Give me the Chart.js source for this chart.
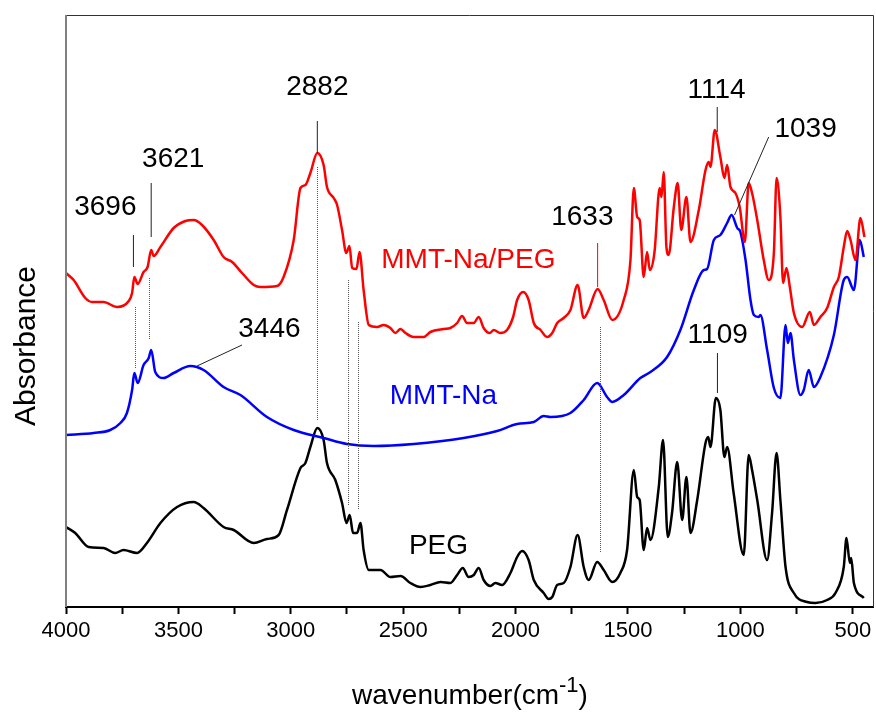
<!DOCTYPE html>
<html>
<head>
<meta charset="utf-8">
<script src="https://cdn.jsdelivr.net/npm/chart.js@4.4.1/dist/chart.umd.min.js"></script>
<style>
  html, body { margin: 0; padding: 0; background: #fff; }
  #ftir-chart { display: block; }
</style>
</head>
<body>
<canvas id="ftir-chart" width="876" height="713"></canvas>
<script>
// x axis: wavenumber (cm-1), plotted high -> low
const xTickValues = [4000, 3750, 3500, 3250, 3000, 2750, 2500, 2250, 2000, 1750, 1500, 1250, 1000, 750, 500];
const wavenumberMin = 410;
const wavenumberMax = 4000;
const absorbanceMin = 0;
const absorbanceMax = 5.92; // arbitrary units, stacked spectra

// MMT-Na/PEG (red)
const compositeWavenumbers = [
  4000, 3966, 3914, 3884, 3833, 3773, 3721, 3706, 3696, 3681,
  3655, 3637, 3621, 3610, 3580, 3521, 3469, 3432, 3395, 3343,
  3299, 3261, 3217, 3165, 3135, 3061, 3032, 2987, 2957, 2935,
  2913, 2882, 2854, 2839, 2809, 2794, 2772, 2753, 2739, 2727,
  2708, 2694, 2676, 2653, 2616, 2587, 2557, 2535, 2512, 2490,
  2453, 2409, 2379, 2320, 2290, 2260, 2238, 2216, 2186, 2164,
  2142, 2115, 2097, 2068, 2038, 2011, 1993, 1966, 1942, 1919,
  1889, 1860, 1837, 1815, 1786, 1756, 1724, 1697, 1675, 1635,
  1608, 1570, 1519, 1489, 1474, 1459, 1448, 1430, 1415, 1403,
  1382, 1359, 1351, 1341, 1329, 1319, 1296, 1279, 1263, 1240,
  1222, 1185, 1155, 1141, 1133, 1114, 1089, 1071, 1059, 1044,
  1022, 1003, 980, 963, 948, 925, 896, 874, 851, 839,
  822, 810, 795, 780, 762, 725, 691, 673, 644, 614,
  584, 562, 540, 525, 510, 488, 466, 448
];
const compositeAbsorbance = [
  3.34, 3.27, 3.09, 3.05, 3.05, 3.00, 3.06, 3.14, 3.30, 3.23,
  3.35, 3.40, 3.57, 3.51, 3.60, 3.79, 3.86, 3.87, 3.82, 3.67,
  3.50, 3.45, 3.34, 3.22, 3.20, 3.21, 3.30, 3.67, 4.19, 4.22,
  4.34, 4.54, 4.42, 4.20, 4.09, 4.02, 3.77, 3.54, 3.61, 3.39,
  3.38, 3.55, 3.17, 2.82, 2.80, 2.82, 2.79, 2.74, 2.78, 2.74,
  2.70, 2.70, 2.75, 2.78, 2.79, 2.84, 2.91, 2.84, 2.84, 2.90,
  2.79, 2.74, 2.77, 2.74, 2.77, 2.90, 3.07, 3.15, 3.07, 2.84,
  2.77, 2.70, 2.74, 2.84, 2.89, 2.97, 3.22, 2.89, 2.97, 3.18,
  3.07, 2.87, 3.07, 3.47, 4.19, 3.90, 3.87, 3.30, 3.55, 3.37,
  3.55, 4.19, 4.10, 4.35, 3.60, 3.52, 4.00, 4.24, 3.77, 4.10,
  3.65, 3.97, 4.37, 4.45, 4.40, 4.77, 4.50, 4.29, 4.42, 4.20,
  4.14, 4.00, 3.65, 4.24, 4.14, 3.87, 3.47, 3.27, 3.54, 4.29,
  3.90, 3.24, 3.39, 3.20, 2.94, 2.80, 2.95, 2.82, 2.90, 2.99,
  3.20, 3.30, 3.60, 3.76, 3.67, 3.47, 3.89, 3.70
];

// MMT-Na (blue)
const clayWavenumbers = [
  4000, 3877, 3803, 3758, 3729, 3706, 3696, 3681, 3655, 3632,
  3621, 3603, 3566, 3521, 3447, 3388, 3299, 3224, 3106, 2987,
  2854, 2750, 2631, 2453, 2231, 2082, 1993, 1919, 1875, 1845,
  1756, 1697, 1637, 1593, 1570, 1519, 1445, 1400, 1326, 1267,
  1207, 1163, 1148, 1118, 1089, 1059, 1039, 1014, 1000, 977,
  955, 940, 918, 911, 881, 851, 822, 799, 789, 777,
  762, 733, 718, 696, 673, 644, 584, 540, 525, 495,
  469, 451
];
const clayAbsorbance = [
  1.72, 1.74, 1.77, 1.84, 1.94, 2.17, 2.34, 2.24, 2.42, 2.49,
  2.57, 2.35, 2.29, 2.34, 2.41, 2.37, 2.20, 2.12, 1.90, 1.77,
  1.69, 1.63, 1.61, 1.63, 1.69, 1.76, 1.83, 1.85, 1.91, 1.90,
  1.94, 2.07, 2.24, 2.10, 2.05, 2.12, 2.29, 2.35, 2.50, 2.77,
  3.17, 3.37, 3.38, 3.67, 3.72, 3.84, 3.92, 3.79, 3.75, 3.47,
  3.07, 2.92, 2.90, 2.92, 2.57, 2.19, 2.09, 2.82, 2.64, 2.74,
  2.47, 2.12, 2.17, 2.37, 2.20, 2.30, 2.72, 3.27, 3.30, 3.17,
  3.67, 3.50
];

// PEG (black)
const pegWavenumbers = [
  4000, 3959, 3899, 3833, 3781, 3744, 3684, 3640, 3580, 3506,
  3432, 3388, 3299, 3254, 3165, 3106, 3054, 3017, 2957, 2935,
  2913, 2882, 2854, 2839, 2802, 2772, 2752, 2738, 2723, 2705,
  2690, 2676, 2653, 2601, 2557, 2512, 2468, 2423, 2379, 2334,
  2290, 2260, 2235, 2209, 2186, 2164, 2142, 2112, 2090, 2060,
  2023, 1993, 1971, 1942, 1919, 1875, 1853, 1837, 1815, 1786,
  1756, 1724, 1697, 1675, 1637, 1608, 1570, 1534, 1504, 1474,
  1459, 1448, 1430, 1415, 1400, 1363, 1344, 1323, 1304, 1281,
  1259, 1240, 1222, 1192, 1155, 1143, 1133, 1109, 1089, 1071,
  1059, 1030, 985, 963, 948, 925, 881, 859, 839, 822,
  799, 762, 703, 666, 614, 577, 540, 528, 513, 507,
  495, 451
];
const pegAbsorbance = [
  0.80, 0.74, 0.60, 0.59, 0.54, 0.57, 0.54, 0.64, 0.84, 1.00,
  1.05, 0.99, 0.80, 0.77, 0.64, 0.68, 0.72, 0.97, 1.39, 1.44,
  1.60, 1.79, 1.67, 1.44, 1.27, 1.04, 0.84, 0.92, 0.74, 0.74,
  0.84, 0.57, 0.37, 0.37, 0.30, 0.31, 0.24, 0.20, 0.22, 0.25,
  0.24, 0.32, 0.39, 0.30, 0.32, 0.39, 0.27, 0.21, 0.24, 0.22,
  0.34, 0.50, 0.56, 0.47, 0.27, 0.14, 0.08, 0.10, 0.22, 0.24,
  0.40, 0.72, 0.40, 0.27, 0.45, 0.37, 0.25, 0.34, 0.57, 1.37,
  1.10, 1.07, 0.57, 0.79, 0.67, 1.20, 1.67, 0.70, 0.94, 1.45,
  0.87, 1.30, 0.74, 1.07, 1.64, 1.70, 1.60, 2.09, 1.97, 1.50,
  1.60, 1.14, 0.52, 1.52, 1.37, 1.07, 0.47, 0.94, 1.54, 1.07,
  0.40, 0.14, 0.05, 0.04, 0.07, 0.14, 0.40, 0.69, 0.44, 0.49,
  0.24, 0.09
];

// text labels: [text, wavenumber, absorbance, colour]
const textLabels = [
  ["3696", 3825, 4.02, "#000"],
  ["3621", 3523, 4.50, "#000"],
  ["2882", 2882, 5.22, "#000"],
  ["3446", 3095, 2.80, "#000"],
  ["MMT-Na/PEG", 2210, 3.49, "#ff0000"],
  ["1633", 1703, 3.92, "#000"],
  ["MMT-Na", 2321, 2.13, "#0000ff"],
  ["PEG", 2343, 0.63, "#000"],
  ["1114", 1106, 5.19, "#000"],
  ["1039", 710, 4.80, "#000"],
  ["1109", 1101, 2.74, "#000"]
];
// solid leader lines: [wn1, a1, wn2, a2, colour]
const leaderLines = [
  [3700, 3.72, 3700, 3.40, "#222"],
  [3621, 4.24, 3621, 3.70, "#222"],
  [2882, 4.86, 2882, 4.54, "#222"],
  [3217, 2.62, 3417, 2.41, "#222"],
  [1635, 3.64, 1635, 3.20, "#ff0000"],
  [1103, 5.00, 1103, 4.75, "#222"],
  [874, 4.70, 1026, 3.92, "#222"],
  [1102, 2.54, 1102, 2.14, "#222"]
];
// dotted guide lines: [wn, top, bottom]
const guideLines = [
  [3692, 3.00, 2.39],
  [3632, 3.29, 2.67],
  [2882, 4.40, 1.87],
  [2745, 3.27, 1.02],
  [2701, 2.85, 0.97],
  [1626, 2.80, 0.54]
];

function toPoints(xs, ys) {
  return xs.map((x, i) => ({ x: x, y: ys[i] }));
}

const FONT = "'Liberation Sans', Arial, sans-serif";

const annotationPlugin = {
  id: "ftirAnnotations",
  afterDatasetsDraw(chart) {
    const ctx = chart.ctx;
    const xs = chart.scales.x;
    const ys = chart.scales.y;
    const area = chart.chartArea;
    ctx.save();

    // dotted guides
    ctx.lineWidth = 1;
    ctx.strokeStyle = "#555";
    ctx.setLineDash([1, 1]);
    guideLines.forEach(g => {
      const px = Math.round(xs.getPixelForValue(g[0])) + 0.5;
      ctx.beginPath();
      ctx.moveTo(px, ys.getPixelForValue(g[1]));
      ctx.lineTo(px, ys.getPixelForValue(g[2]));
      ctx.stroke();
    });
    ctx.setLineDash([]);

    // leader lines
    leaderLines.forEach(l => {
      ctx.strokeStyle = l[4];
      ctx.lineWidth = 1;
      ctx.beginPath();
      ctx.moveTo(xs.getPixelForValue(l[0]), ys.getPixelForValue(l[1]));
      ctx.lineTo(xs.getPixelForValue(l[2]), ys.getPixelForValue(l[3]));
      ctx.stroke();
    });

    // labels
    ctx.font = "28px " + FONT;
    ctx.textAlign = "center";
    ctx.textBaseline = "alphabetic";
    textLabels.forEach(t => {
      ctx.fillStyle = t[3];
      const cx = xs.getPixelForValue(t[1]);
      const cy = ys.getPixelForValue(t[2]);
      ctx.fillText(t[0], cx, cy + 28 * 0.36);
    });

    // frame
    ctx.lineWidth = 1;
    ctx.strokeStyle = "#333";
    ctx.beginPath();
    ctx.moveTo(area.left, area.top + 0.5);
    ctx.lineTo(area.right + 0.5, area.top + 0.5);
    ctx.lineTo(area.right + 0.5, area.bottom);
    ctx.stroke();
    ctx.strokeStyle = "#808080";
    ctx.lineWidth = 2;
    ctx.beginPath();
    ctx.moveTo(area.left, area.top);
    ctx.lineTo(area.left, area.bottom);
    ctx.stroke();

    // y title
    ctx.fillStyle = "#000";
    ctx.font = "30px " + FONT;
    ctx.save();
    ctx.translate(35, 346);
    ctx.rotate(-Math.PI / 2);
    ctx.textAlign = "center";
    ctx.fillText("Absorbance", 0, 0);
    ctx.restore();

    // x title with superscript
    const main = "wavenumber(cm";
    const sup = "-1";
    const tail = ")";
    ctx.font = "28px " + FONT;
    const wMain = ctx.measureText(main).width;
    const wTail = ctx.measureText(tail).width;
    ctx.font = "22px " + FONT;
    const wSup = ctx.measureText(sup).width;
    let x0 = 470 - (wMain + wSup + wTail) / 2;
    const base = 704;
    ctx.textAlign = "left";
    ctx.font = "28px " + FONT;
    ctx.fillText(main, x0, base);
    ctx.font = "22px " + FONT;
    ctx.fillText(sup, x0 + wMain, base - 12);
    ctx.font = "28px " + FONT;
    ctx.fillText(tail, x0 + wMain + wSup, base);

    ctx.restore();
  }
};

const config = {
  type: "line",
  data: {
    datasets: [
      {
        label: "MMT-Na/PEG",
        data: toPoints(compositeWavenumbers, compositeAbsorbance),
        borderColor: "#ff0000",
      },
      {
        label: "MMT-Na",
        data: toPoints(clayWavenumbers, clayAbsorbance),
        borderColor: "#0000ff",
      },
      {
        label: "PEG",
        data: toPoints(pegWavenumbers, pegAbsorbance),
        borderColor: "#000000",
      },
    ],
  },
  options: {
    responsive: false,
    animation: false,
    events: [],
    layout: { padding: { left: 66, right: 3, top: 15, bottom: 0 } },
    elements: {
      point: { radius: 0 },
      line: { borderWidth: 2.5, cubicInterpolationMode: "monotone", fill: false },
    },
    plugins: {
      legend: { display: false },
      tooltip: { enabled: false },
    },
    scales: {
      x: {
        type: "linear",
        reverse: true,
        min: wavenumberMin,
        max: wavenumberMax,
        afterBuildTicks: (scale) => {
          scale.ticks = xTickValues.map(v => ({ value: v }));
        },
        afterFit: (scale) => {
          scale.height = 106;
        },
        border: { display: true, color: "#000", width: 2 },
        grid: {
          drawOnChartArea: false,
          drawTicks: true,
          tickLength: 7,
          tickColor: "#000",
          tickWidth: 2,
        },
        ticks: {
          autoSkip: false,
          maxRotation: 0,
          padding: 4,
          color: "#000",
          font: { family: FONT, size: 22 },
          callback: (v) => (v % 500 === 0 ? String(v) : ""),
        },
      },
      y: {
        display: false,
        min: absorbanceMin,
        max: absorbanceMax,
      },
    },
  },
  plugins: [annotationPlugin],
};

new Chart(document.getElementById("ftir-chart"), config);
</script>
</body>
</html>
